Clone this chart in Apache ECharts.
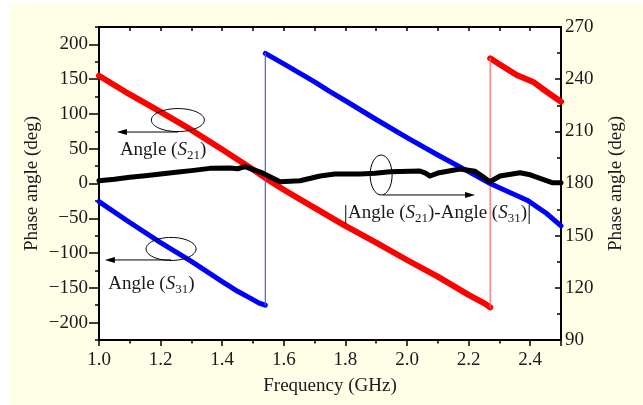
<!DOCTYPE html>
<html><head><meta charset="utf-8">
<script src="https://cdn.jsdelivr.net/npm/echarts@6/dist/echarts.min.js"></script>
<style>
html,body{margin:0;padding:0;background:#fff;}
#wrap{position:relative;width:643px;height:405px;background:#fff;overflow:hidden;}
#bg{position:absolute;left:10px;top:4px;right:0;bottom:0;background:#FFFEE6;}
#chart{position:absolute;left:0;top:0;width:643px;height:405px;}
</style></head><body>
<div id="wrap"><div id="bg"></div><div id="chart"></div></div>
<script>
// ---- data ----
const s21FreqLow  = [1.0, 1.1, 1.2, 1.3, 1.4, 1.5, 1.55, 1.6, 1.7, 1.8, 1.9, 2.0, 2.1, 2.2, 2.25, 2.27];
const s21PhaseLow = [155, 128, 103, 77, 49, 20, 5, -9, -35, -61, -85, -110, -134, -160, -172, -178];
const s21FreqHigh  = [2.27, 2.3, 2.356, 2.41, 2.45, 2.5];
const s21PhaseHigh = [180, 171.5, 156, 146, 133, 117.5];

const s31FreqLow  = [1.0, 1.1, 1.2, 1.3, 1.4, 1.45, 1.5, 1.52, 1.54];
const s31PhaseLow = [-26, -56, -85, -112, -141, -155, -167, -172, -175];
const s31FreqHigh  = [1.54, 1.6, 1.7, 1.75, 1.8, 1.9, 2.0, 2.1, 2.2, 2.27, 2.3, 2.39, 2.45, 2.5];
const s31PhaseHigh = [187, 172, 146, 132, 119, 92, 66, 41, 17, 0, -6, -24, -42, -61];

const diffFreq  = [1.0, 1.05, 1.1, 1.15, 1.2, 1.25, 1.3, 1.36, 1.425, 1.45, 1.474, 1.5, 1.529, 1.56, 1.588, 1.62, 1.653, 1.718, 1.766, 1.847, 1.896, 1.945, 2.042, 2.06, 2.075, 2.1, 2.123, 2.172, 2.221, 2.247, 2.269, 2.302, 2.367, 2.4, 2.432, 2.471, 2.5];
const diffPhase = [181.6, 182.5, 183.6, 184.5, 185.5, 186.5, 187.4, 188.7, 188.9, 188.5, 189.7, 188, 186.2, 183.5, 181, 181.3, 181.6, 184.3, 185.5, 185.5, 185.9, 186.8, 187.2, 186, 184.3, 186, 186.8, 188.3, 187, 183.9, 181, 184.3, 186.2, 185, 183, 180.5, 180.5];

const leftTickValues  = [-200, -150, -100, -50, 0, 50, 100, 150, 200];
const xAxisTitle = 'Frequency (GHz)';
const yAxisTitle = 'Phase angle (deg)';

// ---- annotation anchors (data coords, left axis) ----
const annot = {
  s21: { ellipse: [1.256, 91.2], arrowFrom: [1.256, 74], arrowTo: [1.058, 74], label: [1.208, 48] },
  s31: { ellipse: [1.234, -94.1], arrowFrom: [1.234, -109.9], arrowTo: [1.019, -109.9], label: [1.170, -144.4] },
  diff: { ellipse: [1.916, 12.2], arrowFrom: [1.922, -16.5], arrowTo: [2.221, -16.5], label: [2.099, -42.4] }
};

const FONT = '"Liberation Serif", "Times New Roman", serif';
const FS = 19;
const TXT = '#1a1a1a';
const pairs = (xs, ys) => xs.map((x, i) => [x, ys[i]]);
const minus = v => String(v).replace('-', '\u2212');

const chart = echarts.init(document.getElementById('chart'), null, { renderer: 'canvas' });

function lineSeries(name, data, color, width, yIdx, z) {
  return {
    name, type: 'line', data, xAxisIndex: 0, yAxisIndex: yIdx,
    showSymbol: false, symbol: 'none', silent: true, z,
    lineStyle: { color, width, cap: 'round', join: 'round' },
    emphasis: { disabled: true }
  };
}

const s21Low = pairs(s21FreqLow, s21PhaseLow), s21High = pairs(s21FreqHigh, s21PhaseHigh);
const s31Low = pairs(s31FreqLow, s31PhaseLow), s31High = pairs(s31FreqHigh, s31PhaseHigh);

const axisLineStyle = { color: '#000', width: 2 };
const tickStyle = { color: '#000', width: 1.5 };

chart.setOption({
  animation: false,
  backgroundColor: 'transparent',
  grid: { left: 99, right: 82, top: 27, bottom: 65, show: true, backgroundColor: '#fff', borderWidth: 0 },
  xAxis: [
    { type: 'value', min: 1.0, max: 2.5, interval: 0.2, position: 'bottom',
      name: xAxisTitle, nameLocation: 'middle', nameGap: 37,
      nameTextStyle: { fontFamily: FONT, fontSize: FS, color: TXT },
      axisLine: { show: true, onZero: false, lineStyle: axisLineStyle },
      axisTick: { show: true, inside: false, length: 6, lineStyle: tickStyle },
      minorTick: { show: true, splitNumber: 2, length: 3.5, lineStyle: tickStyle },
      axisLabel: { fontFamily: FONT, fontSize: FS, color: TXT, margin: 11, showMaxLabel: false, formatter: v => v.toFixed(1) },
      splitLine: { show: false }, minorSplitLine: { show: false } },
    { type: 'value', min: 1.0, max: 2.5, interval: 0.1, position: 'top',
      axisLine: { show: true, onZero: false, lineStyle: axisLineStyle },
      axisTick: { show: true, inside: true, length: 4, lineStyle: tickStyle },
      axisLabel: { show: false }, splitLine: { show: false } }
  ],
  yAxis: [
    { type: 'value', min: -225, max: 225, position: 'left',
      name: yAxisTitle, nameLocation: 'middle', nameGap: 57, nameRotate: 90, nameMoveOverlap: false,
      nameTextStyle: { fontFamily: FONT, fontSize: FS, color: TXT },
      axisLine: { show: true, onZero: false, lineStyle: axisLineStyle },
      axisTick: { show: true, inside: false, length: 10, lineStyle: tickStyle, customValues: leftTickValues },
      axisLabel: { fontFamily: FONT, fontSize: FS, color: TXT, margin: 11, customValues: leftTickValues, formatter: minus },
      splitLine: { show: false } },
    { type: 'value', min: 90, max: 270, interval: 30, position: 'right',
      name: yAxisTitle, nameLocation: 'middle', nameGap: 46, nameRotate: 90, nameMoveOverlap: false,
      nameTextStyle: { fontFamily: FONT, fontSize: FS, color: TXT },
      axisLine: { show: true, onZero: false, lineStyle: axisLineStyle },
      axisTick: { show: true, inside: true, length: 6, lineStyle: tickStyle },
      minorTick: { show: true, splitNumber: 2, length: 4, lineStyle: tickStyle },
      axisLabel: { fontFamily: FONT, fontSize: FS, color: TXT, margin: 4 },
      splitLine: { show: false }, minorSplitLine: { show: false } },
    { type: 'value', min: -225, max: 225, interval: 25, position: 'left',
      axisLine: { show: false },
      axisTick: { show: true, inside: false, length: 4, lineStyle: tickStyle },
      axisLabel: { show: false }, splitLine: { show: false } }
  ],
  series: [
    lineSeries('S21 low', s21Low, '#ff0000', 6, 0, 2),
    lineSeries('S21 high', s21High, '#ff0000', 6, 0, 2),
    lineSeries('S21 jump', [s21Low[s21Low.length - 1], s21High[0]], '#ff6666', 1.2, 0, 2),
    lineSeries('S31 low', s31Low, '#0000ff', 5, 0, 3),
    lineSeries('S31 high', s31High, '#0000ff', 5, 0, 3),
    lineSeries('S31 jump', [s31Low[s31Low.length - 1], s31High[0]], '#5555ff', 1.2, 0, 3),
    lineSeries('|S21-S31|', pairs(diffFreq, diffPhase), '#000000', 5, 1, 4)
  ]
});

// ---- annotations placed through the axes ----
const px = p => chart.convertToPixel({ xAxisIndex: 0, yAxisIndex: 0 }, p);
const rich = {
  n: { fontFamily: FONT, fontSize: FS, lineHeight: 24, fill: TXT, color: TXT },
  i: { fontFamily: FONT, fontSize: FS, fontStyle: 'italic', lineHeight: 24, fill: TXT, color: TXT },
  s: { fontFamily: FONT, fontSize: 13, lineHeight: 13, verticalAlign: 'bottom', fill: TXT, color: TXT },
  b: { fontFamily: FONT, fontSize: 22, lineHeight: 24, fill: TXT, color: TXT }
};
function ellipse(c, rx, ry) {
  const p = px(c);
  return { type: 'ellipse', silent: true, z: 10, shape: { cx: p[0], cy: p[1], rx, ry }, style: { fill: 'none', stroke: '#000', lineWidth: 1 } };
}
function arrow(from, to) {
  const a = px(from), b = px(to);
  const dir = b[0] < a[0] ? 1 : -1;
  return [
    { type: 'line', silent: true, z: 10, shape: { x1: a[0], y1: a[1], x2: b[0] + dir * 6, y2: b[1] }, style: { stroke: '#000', lineWidth: 1 } },
    { type: 'polygon', silent: true, z: 10, shape: { points: [[b[0], b[1]], [b[0] + dir * 10, b[1] - 3], [b[0] + dir * 10, b[1] + 3]] }, style: { fill: '#000' } }
  ];
}
function label(pos, text) {
  const p = px(pos);
  return { type: 'text', silent: true, z: 10, x: p[0], y: p[1], style: { text, rich, align: 'center', verticalAlign: 'middle', fontFamily: FONT, fontSize: FS, fill: TXT } };
}
const g = [];
g.push(ellipse(annot.s21.ellipse, 26.5, 11.5), ...arrow(annot.s21.arrowFrom, annot.s21.arrowTo), label(annot.s21.label, '{n|Angle (}{i|S}{s|21}{n|)}'));
g.push(ellipse(annot.s31.ellipse, 25, 11.5), ...arrow(annot.s31.arrowFrom, annot.s31.arrowTo), label(annot.s31.label, '{n|Angle (}{i|S}{s|31}{n|)}'));
g.push(ellipse(annot.diff.ellipse, 11, 20), ...arrow(annot.diff.arrowFrom, annot.diff.arrowTo),
  label(annot.diff.label, '{b||}{n|Angle (}{i|S}{s|21}{n|)-Angle (}{i|S}{s|31}{n|)}{b||}'));
chart.setOption({ graphic: g });
</script>
</body></html>
